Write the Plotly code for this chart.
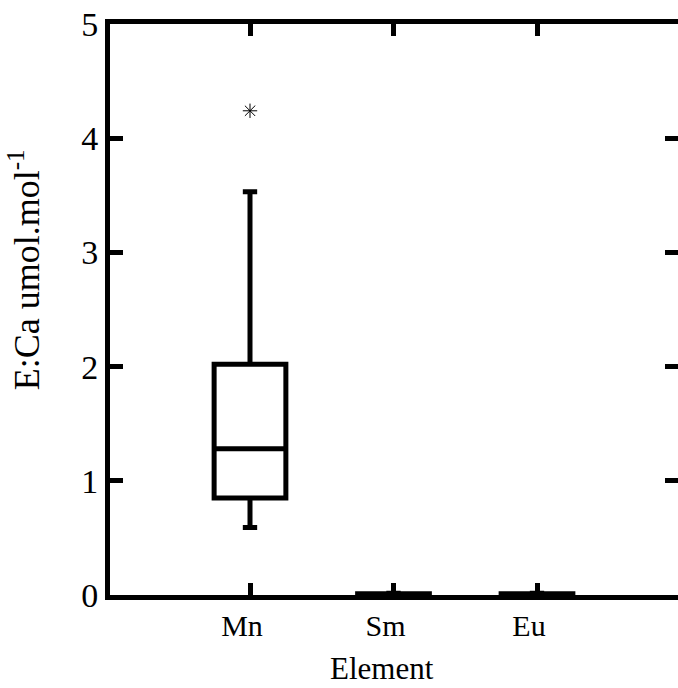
import plotly.graph_objects as go

# ---- data ----
elements = ["Mn", "Sm", "Eu"]
positions = [1, 2, 3]
lower_fence = [0.59, 0.003, 0.003]
q1 = [0.85, 0.006, 0.006]
median = [1.28, 0.009, 0.009]
q3 = [2.02, 0.012, 0.012]
upper_fence = [3.53, 0.015, 0.015]
outlier_x = [1]
outlier_y = [4.24]
y_ticks = [0, 1, 2, 3, 4, 5]

FONT = "Liberation Serif"

fig = go.Figure()
fig.add_trace(go.Box(
    x=positions, q1=q1, median=median, q3=q3,
    lowerfence=lower_fence, upperfence=upper_fence,
    width=0.5, whiskerwidth=0.2, boxpoints=False,
    line=dict(color="black", width=5), fillcolor="white",
    showlegend=False, hoverinfo="skip",
))
fig.add_trace(go.Scatter(
    x=outlier_x, y=outlier_y, mode="markers", yaxis="y2",
    marker=dict(symbol="asterisk-open", size=12, color="black",
                line=dict(color="black", width=1)),
    showlegend=False,
))

fig.update_layout(
    width=678, height=688,
    margin=dict(l=110, r=0, t=24, b=93, autoexpand=False),
    paper_bgcolor="white", plot_bgcolor="white",
    font=dict(family=FONT, color="black"),
    xaxis=dict(
        range=[0.0244, 3.9826], tickmode="array", tickvals=positions, ticktext=elements,
        ticks="inside", ticklen=12, tickwidth=5, tickcolor="black",
        showline=True, linewidth=5, linecolor="black", mirror="ticks",
        showgrid=False, zeroline=False, automargin=False,
        tickfont=dict(family=FONT, size=30), ticklabelshift=-8,
    ),
    yaxis=dict(
        range=[0, 5], tickmode="array", tickvals=y_ticks,
        ticks="inside", ticklen=13, tickwidth=5, tickcolor="black",
        showline=True, linewidth=5, linecolor="black",
        showgrid=False, zeroline=False, automargin=False,
        tickfont=dict(family=FONT, size=34),
    ),
    yaxis2=dict(
        range=[0, 5], overlaying="y", side="right", tickmode="array", tickvals=y_ticks,
        ticks="inside", ticklen=13, tickwidth=5, tickcolor="black",
        showline=False, showticklabels=False, showgrid=False, zeroline=False,
    ),
    annotations=[
        dict(text="Element", xref="paper", yref="paper", x=0.479, y=-0.128,
             xanchor="center", yanchor="middle", showarrow=False,
             font=dict(family=FONT, size=31)),
        dict(text="E:Ca umol.mol<sup>-1</sup>", xref="paper", yref="paper",
             x=-0.150, y=0.570, xanchor="center", yanchor="middle",
             textangle=-90, showarrow=False, font=dict(family=FONT, size=36)),
    ],
)

fig.write_html("out.html", config={"displayModeBar": False},
               post_script="document.body.style.margin='0px';document.body.style.overflow='hidden';")
